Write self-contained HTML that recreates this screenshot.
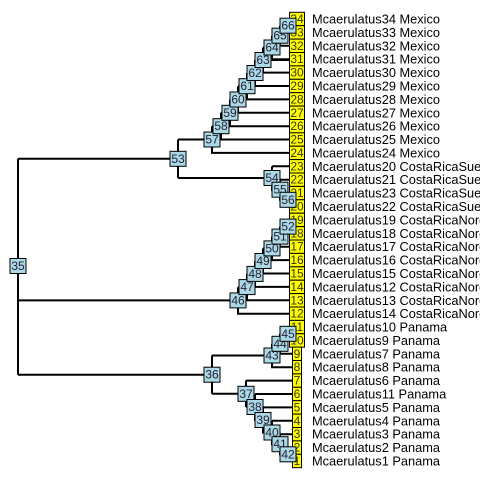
<!DOCTYPE html>
<html><head><meta charset="utf-8"><style>
body{margin:0;background:#fff}
svg{display:block}
text{font-family:"Liberation Sans",Arial,sans-serif}
.n rect{fill:#add8e6;stroke:#000;stroke-width:1}
.n text{font-size:12px;fill:#223;text-anchor:middle;dominant-baseline:central}
.t rect{fill:#ffff00;stroke:#000;stroke-width:1}
.t text{font-size:12px;fill:#332;text-anchor:middle;dominant-baseline:central}
.l text{font-size:12.8px;fill:#000;dominant-baseline:central}
</style></head><body>
<svg width="480" height="480" viewBox="0 0 480 480" xmlns="http://www.w3.org/2000/svg">
<rect width="480" height="480" fill="#fff"/>
<path fill="none" stroke="#000" stroke-width="2" d="
M18 158.8V374.7 M18 158.8H178 M18 300.4H238 M18 374.7H212
M178 139.5V178 M178 139.5H212 M178 178H272
M212 126.2V152.9H296 M212 126.2H221
M221 112.8V139.5H296 M221 112.8H230
M230 99.5V126.2H296 M230 99.5H238
M238 86.2V112.8H296 M238 86.2H247
M247 73V99.4H296 M247 73H255
M255 60H296 M255 60V86H296
M263 47.5V72.6H296 M263 47.5H272
M272 35.75V59.2H296 M272 35.75H280
M280 25.7V45.8H296 M280 25.7H288
M288 19V32.4 M288 19H296 M288 32.4H296
M272 166.3H296 M272 166.3V189.7H280
M280 179.7V199.8H288 M280 179.7H296
M288 193.1V206.5 M288 193.1H296 M288 206.5H296
M238 287.1V313.7H296 M238 287.1H247
M247 273.9V300.3H296 M247 273.9H255
M255 261V286.9H296 M255 261H263
M263 248.4V273.5H296 M263 248.4H272
M272 236.6V260.1H296 M272 236.6H280
M280 226.6V246.7H296 M280 226.6H288
M288 219.9V233.3 M288 219.9H296 M288 233.3H296
M212 355.5V393.8 M212 355.5H272 M212 393.8H246
M272 343.8V367.2H296 M272 343.8H280
M280 333.8V353.8H296 M280 333.8H288
M288 327.1V340.5 M288 327.1H296 M288 340.5H296
M246 380.6V407 M246 380.6H296 M246 407H255
M255 394V420H263 M255 394H296
M263 407.4V432.5H272 M263 407.4H296
M272 420.8V444.2H280 M272 420.8H296
M280 434.2V454.3H288 M280 434.2H296
M288 447.6V461 M288 447.6H296 M288 461H296"/>

<g class="t">
<rect x="289.5" y="12.3" width="15" height="13.4"/><text x="297" y="19">34</text>
<rect x="289.5" y="25.7" width="15" height="13.4"/><text x="297" y="32.4">33</text>
<rect x="289.5" y="39.1" width="15" height="13.4"/><text x="297" y="45.8">32</text>
<rect x="289.5" y="52.5" width="15" height="13.4"/><text x="297" y="59.2">31</text>
<rect x="289.5" y="65.9" width="15" height="13.4"/><text x="297" y="72.6">30</text>
<rect x="289.5" y="79.3" width="15" height="13.4"/><text x="297" y="86">29</text>
<rect x="289.5" y="92.7" width="15" height="13.4"/><text x="297" y="99.4">28</text>
<rect x="289.5" y="106.1" width="15" height="13.4"/><text x="297" y="112.8">27</text>
<rect x="289.5" y="119.5" width="15" height="13.4"/><text x="297" y="126.2">26</text>
<rect x="289.5" y="132.8" width="15" height="13.4"/><text x="297" y="139.5">25</text>
<rect x="289.5" y="146.2" width="15" height="13.4"/><text x="297" y="152.9">24</text>
<rect x="289.5" y="159.6" width="15" height="13.4"/><text x="297" y="166.3">23</text>
<rect x="289.5" y="173" width="15" height="13.4"/><text x="297" y="179.7">22</text>
<rect x="289.5" y="186.4" width="15" height="13.4"/><text x="297" y="193.1">21</text>
<rect x="289.5" y="199.8" width="15" height="13.4"/><text x="297" y="206.5">20</text>
<rect x="289.5" y="213.2" width="15" height="13.4"/><text x="297" y="219.9">19</text>
<rect x="289.5" y="226.6" width="15" height="13.4"/><text x="297" y="233.3">18</text>
<rect x="289.5" y="240" width="15" height="13.4"/><text x="297" y="246.7">17</text>
<rect x="289.5" y="253.4" width="15" height="13.4"/><text x="297" y="260.1">16</text>
<rect x="289.5" y="266.8" width="15" height="13.4"/><text x="297" y="273.5">15</text>
<rect x="289.5" y="280.2" width="15" height="13.4"/><text x="297" y="286.9">14</text>
<rect x="289.5" y="293.6" width="15" height="13.4"/><text x="297" y="300.3">13</text>
<rect x="289.5" y="307" width="15" height="13.4"/><text x="297" y="313.7">12</text>
<rect x="289.5" y="320.4" width="15" height="13.4"/><text x="297" y="327.1">11</text>
<rect x="289.5" y="333.8" width="15" height="13.4"/><text x="297" y="340.5">10</text>
<rect x="292.5" y="347.1" width="9" height="13.4"/><text x="297" y="353.8">9</text>
<rect x="292.5" y="360.5" width="9" height="13.4"/><text x="297" y="367.2">8</text>
<rect x="292.5" y="373.9" width="9" height="13.4"/><text x="297" y="380.6">7</text>
<rect x="292.5" y="387.3" width="9" height="13.4"/><text x="297" y="394">6</text>
<rect x="292.5" y="400.7" width="9" height="13.4"/><text x="297" y="407.4">5</text>
<rect x="292.5" y="414.1" width="9" height="13.4"/><text x="297" y="420.8">4</text>
<rect x="292.5" y="427.5" width="9" height="13.4"/><text x="297" y="434.2">3</text>
<rect x="292.5" y="440.9" width="9" height="13.4"/><text x="297" y="447.6">2</text>
<rect x="292.5" y="454.3" width="9" height="13.4"/><text x="297" y="461">1</text>
</g>

<g class="n">
<rect x="10" y="258.5" width="16" height="15"/><text x="18" y="266">35</text>
<rect x="170" y="151.3" width="16" height="15"/><text x="178" y="158.8">53</text>
<rect x="204" y="132" width="16" height="15"/><text x="212" y="139.5">57</text>
<rect x="213" y="118.7" width="16" height="15"/><text x="221" y="126.2">58</text>
<rect x="222" y="105.3" width="16" height="15"/><text x="230" y="112.8">59</text>
<rect x="230" y="92" width="16" height="15"/><text x="238" y="99.5">60</text>
<rect x="239" y="78.7" width="16" height="15"/><text x="247" y="86.2">61</text>
<rect x="247" y="65.5" width="16" height="15"/><text x="255" y="73">62</text>
<rect x="255" y="52.5" width="16" height="15"/><text x="263" y="60">63</text>
<rect x="264" y="40" width="16" height="15"/><text x="272" y="47.5">64</text>
<rect x="272" y="28.2" width="16" height="15"/><text x="280" y="35.7">65</text>
<rect x="280" y="18.2" width="16" height="15"/><text x="288" y="25.7">66</text>
<rect x="264" y="170.5" width="16" height="15"/><text x="272" y="178">54</text>
<rect x="272" y="182.2" width="16" height="15"/><text x="280" y="189.7">55</text>
<rect x="280" y="192.3" width="16" height="15"/><text x="288" y="199.8">56</text>
<rect x="230" y="292.9" width="16" height="15"/><text x="238" y="300.4">46</text>
<rect x="239" y="279.6" width="16" height="15"/><text x="247" y="287.1">47</text>
<rect x="247" y="266.4" width="16" height="15"/><text x="255" y="273.9">48</text>
<rect x="255" y="253.5" width="16" height="15"/><text x="263" y="261">49</text>
<rect x="264" y="240.9" width="16" height="15"/><text x="272" y="248.4">50</text>
<rect x="272" y="229.1" width="16" height="15"/><text x="280" y="236.6">51</text>
<rect x="280" y="219.1" width="16" height="15"/><text x="288" y="226.6">52</text>
<rect x="204" y="367.2" width="16" height="15"/><text x="212" y="374.7">36</text>
<rect x="264" y="348" width="16" height="15"/><text x="272" y="355.5">43</text>
<rect x="272" y="336.3" width="16" height="15"/><text x="280" y="343.8">44</text>
<rect x="280" y="326.3" width="16" height="15"/><text x="288" y="333.8">45</text>
<rect x="238" y="386.3" width="16" height="15"/><text x="246" y="393.8">37</text>
<rect x="247" y="399.5" width="16" height="15"/><text x="255" y="407">38</text>
<rect x="255" y="412.5" width="16" height="15"/><text x="263" y="420">39</text>
<rect x="264" y="425" width="16" height="15"/><text x="272" y="432.5">40</text>
<rect x="272" y="436.7" width="16" height="15"/><text x="280" y="444.2">41</text>
<rect x="280" y="446.8" width="16" height="15"/><text x="288" y="454.3">42</text>
</g>

<g class="l">
<text x="312" y="19">Mcaerulatus34 Mexico</text>
<text x="312" y="32.4">Mcaerulatus33 Mexico</text>
<text x="312" y="45.8">Mcaerulatus32 Mexico</text>
<text x="312" y="59.2">Mcaerulatus31 Mexico</text>
<text x="312" y="72.6">Mcaerulatus30 Mexico</text>
<text x="312" y="86">Mcaerulatus29 Mexico</text>
<text x="312" y="99.4">Mcaerulatus28 Mexico</text>
<text x="312" y="112.8">Mcaerulatus27 Mexico</text>
<text x="312" y="126.2">Mcaerulatus26 Mexico</text>
<text x="312" y="139.5">Mcaerulatus25 Mexico</text>
<text x="312" y="152.9">Mcaerulatus24 Mexico</text>
<text x="312" y="166.3">Mcaerulatus20 CostaRicaSued</text>
<text x="312" y="179.7">Mcaerulatus21 CostaRicaSued</text>
<text x="312" y="193.1">Mcaerulatus23 CostaRicaSued</text>
<text x="312" y="206.5">Mcaerulatus22 CostaRicaSued</text>
<text x="312" y="219.9">Mcaerulatus19 CostaRicaNord</text>
<text x="312" y="233.3">Mcaerulatus18 CostaRicaNord</text>
<text x="312" y="246.7">Mcaerulatus17 CostaRicaNord</text>
<text x="312" y="260.1">Mcaerulatus16 CostaRicaNord</text>
<text x="312" y="273.5">Mcaerulatus15 CostaRicaNord</text>
<text x="312" y="286.9">Mcaerulatus12 CostaRicaNord</text>
<text x="312" y="300.3">Mcaerulatus13 CostaRicaNord</text>
<text x="312" y="313.7">Mcaerulatus14 CostaRicaNord</text>
<text x="312" y="327.1">Mcaerulatus10 Panama</text>
<text x="312" y="340.5">Mcaerulatus9 Panama</text>
<text x="312" y="353.8">Mcaerulatus7 Panama</text>
<text x="312" y="367.2">Mcaerulatus8 Panama</text>
<text x="312" y="380.6">Mcaerulatus6 Panama</text>
<text x="312" y="394">Mcaerulatus11 Panama</text>
<text x="312" y="407.4">Mcaerulatus5 Panama</text>
<text x="312" y="420.8">Mcaerulatus4 Panama</text>
<text x="312" y="434.2">Mcaerulatus3 Panama</text>
<text x="312" y="447.6">Mcaerulatus2 Panama</text>
<text x="312" y="461">Mcaerulatus1 Panama</text>
</g>
</svg>
</body></html>
